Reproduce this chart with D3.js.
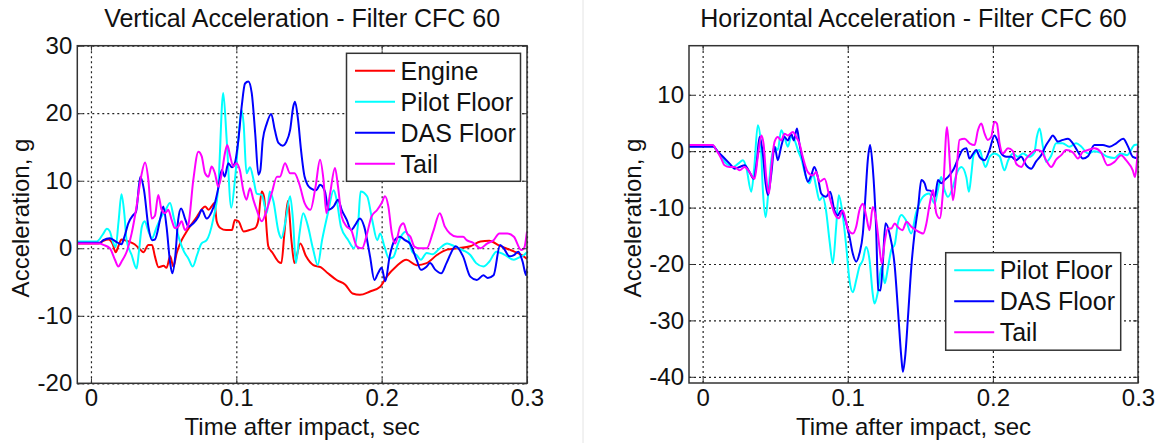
<!DOCTYPE html>
<html>
<head>
<meta charset="utf-8">
<script src="https://cdn.jsdelivr.net/npm/d3@7"></script>
<style>
body { margin: 0; background: #fff; }
svg { display: block; font-family: "Liberation Sans", Arial, sans-serif; }
</style>
</head>
<body>
<svg id="chart" width="1159" height="443"></svg>
<script>
// time (s), acceleration (g)
var vertEngine = [[-0.0094,0.7],[0.005,0.7],[0.0085,1.1],[0.012,1.3],[0.015,0.6],[0.017,-0.6],[0.019,0.4],[0.021,1.3],[0.026,1.0],[0.030,0.6],[0.034,-0.2],[0.036,-0.6],[0.0395,0.5],[0.042,0.5],[0.044,-1.2],[0.0465,-2.8],[0.050,-2.6],[0.052,-2.9],[0.0545,-1.2],[0.0567,-2.7],[0.059,-0.7],[0.0613,0.7],[0.065,2.2],[0.068,3.2],[0.073,4.7],[0.076,5.7],[0.0785,6.2],[0.081,5.7],[0.083,6.2],[0.085,6.7],[0.0865,4.0],[0.089,3.0],[0.093,2.7],[0.097,2.7],[0.099,4.2],[0.1015,4.0],[0.105,2.5],[0.109,2.7],[0.113,3.0],[0.115,4.0],[0.1175,8.4],[0.119,7.7],[0.122,0.3],[0.125,-0.7],[0.129,-2.0],[0.131,-2.2],[0.133,2.0],[0.1355,7.0],[0.138,1.0],[0.140,-2.2],[0.144,0.7],[0.148,-1.2],[0.153,-2.5],[0.158,-2.8],[0.163,-3.7],[0.169,-4.7],[0.175,-5.4],[0.180,-6.7],[0.185,-6.9],[0.192,-6.4],[0.199,-5.7],[0.2035,-4.2],[0.210,-2.7],[0.217,-1.7],[0.224,-2.5],[0.231,-2.2],[0.238,-1.0],[0.245,-0.2],[0.252,0],[0.261,0.3],[0.268,1.0],[0.274,1.1],[0.281,0.4],[0.289,-0.3],[0.297,-1.1],[0.3,-1.6]];
var vertPilot = [[-0.0094,1.0],[0.004,1.0],[0.008,2.0],[0.011,2.9],[0.013,2.5],[0.015,1.0],[0.017,0.2],[0.019,4.0],[0.021,8.0],[0.023,5.0],[0.0245,1.2],[0.028,-1.0],[0.0314,-3.0],[0.033,-0.5],[0.035,3.2],[0.037,4.0],[0.0395,2.5],[0.042,1.5],[0.045,3.0],[0.048,4.5],[0.051,5.5],[0.0544,6.7],[0.057,4.5],[0.061,1.2],[0.064,-0.5],[0.067,-1.5],[0.070,-2.7],[0.073,-1.0],[0.076,0.7],[0.0796,1.2],[0.084,4.2],[0.0876,9.1],[0.091,23.0],[0.0934,16],[0.0965,6.0],[0.099,10.0],[0.1014,16],[0.1035,20.5],[0.105,18.5],[0.107,11.1],[0.1094,12.0],[0.112,10.0],[0.114,8.1],[0.1175,7.9],[0.121,5.2],[0.123,8.4],[0.1255,7.0],[0.129,2.5],[0.131,1.5],[0.134,4.2],[0.137,7.7],[0.139,4.2],[0.141,-2.2],[0.1435,2.2],[0.146,5.2],[0.149,3.5],[0.153,-0.3],[0.156,-2.5],[0.159,1.2],[0.163,5.2],[0.167,8.6],[0.169,7.2],[0.172,3.2],[0.177,1.2],[0.181,0],[0.184,4.2],[0.1855,8.4],[0.19,7.7],[0.1935,4.2],[0.197,1.2],[0.199,2.2],[0.202,0.2],[0.205,-1.5],[0.208,-1.3],[0.211,0.5],[0.214,2.0],[0.217,2.5],[0.221,-0.5],[0.224,-1.0],[0.227,-1.7],[0.231,-0.7],[0.235,-0.9],[0.24,0],[0.245,0.7],[0.25,0.3],[0.256,-0.3],[0.261,-1.0],[0.265,-2.2],[0.27,-2.7],[0.274,-2.0],[0.279,-0.5],[0.284,-0.9],[0.291,-1.7],[0.295,-1.3],[0.298,-1.0],[0.3,-0.6]];
var vertDas = [[-0.0094,0.8],[0.006,0.8],[0.0085,1.2],[0.013,1.5],[0.017,1.0],[0.021,0.6],[0.023,1.7],[0.0257,3.7],[0.029,4.9],[0.031,5.4],[0.034,10.6],[0.0365,8.6],[0.0395,3.2],[0.042,1.2],[0.044,1.3],[0.048,4.7],[0.0498,6.2],[0.052,3.2],[0.0545,-2.2],[0.056,-3.7],[0.058,-1.2],[0.060,4.2],[0.062,5.9],[0.065,4.2],[0.067,3.2],[0.0705,3.7],[0.074,4.7],[0.0762,5.7],[0.0796,4.4],[0.083,5.4],[0.0855,6.9],[0.0876,8.9],[0.090,11.6],[0.092,10.6],[0.0945,12.6],[0.097,12.0],[0.099,12.6],[0.1014,16],[0.1037,21],[0.106,24.4],[0.1083,24.7],[0.1106,23],[0.113,17],[0.1152,10.9],[0.1165,11.5],[0.1182,16],[0.121,18.5],[0.124,19.9],[0.1265,17.5],[0.129,15.6],[0.132,15.2],[0.1345,15.8],[0.137,17.5],[0.1392,21],[0.1404,21.7],[0.1425,19],[0.1445,14.6],[0.147,10.6],[0.151,8.9],[0.155,8.6],[0.1576,9.4],[0.161,8.4],[0.1633,5.7],[0.167,6.2],[0.170,7.2],[0.1725,5.7],[0.176,4.2],[0.179,2.7],[0.1825,3.7],[0.185,4.4],[0.188,3.2],[0.192,-1.2],[0.195,-4.7],[0.1975,-3.7],[0.2,-2.9],[0.2025,-4.9],[0.2055,-1.2],[0.209,1.2],[0.2125,1.7],[0.216,1.2],[0.2195,0.7],[0.224,-1.7],[0.227,-3.2],[0.231,-2.7],[0.2333,-2.2],[0.237,-3.2],[0.241,-3.7],[0.2446,-2.2],[0.251,0.3],[0.256,-1.2],[0.261,-4.2],[0.2655,-4.7],[0.27,-4.0],[0.273,-4.4],[0.277,-4.0],[0.2815,0.5],[0.284,0],[0.288,-1.2],[0.291,-1.0],[0.294,-0.5],[0.297,-2.0],[0.2994,-4.0],[0.3,-3.0]];
var vertTail = [[-0.0094,0.7],[0.006,0.7],[0.0085,0.5],[0.013,0],[0.0165,-1.7],[0.0188,-2.7],[0.021,-2.0],[0.025,-0.25],[0.028,2.2],[0.031,5.7],[0.0345,10.6],[0.0372,12.7],[0.0395,10.1],[0.0418,4.4],[0.044,4.8],[0.0463,7.9],[0.0486,5.7],[0.051,5.2],[0.0532,5.7],[0.0555,4.2],[0.0578,3.0],[0.060,3.2],[0.0624,4.0],[0.0647,2.7],[0.067,3.5],[0.0704,10.1],[0.0739,14.3],[0.0762,13.6],[0.0785,11.1],[0.0808,10.6],[0.083,12.1],[0.0853,11.1],[0.0876,9.1],[0.090,11.1],[0.0922,14.1],[0.0938,15.3],[0.0956,13.8],[0.098,12.1],[0.100,12.6],[0.1025,11.5],[0.1048,8.6],[0.107,7.2],[0.1094,8.9],[0.1117,7.2],[0.114,5.7],[0.1175,4.0],[0.121,5.7],[0.1243,8.1],[0.128,10.6],[0.130,10.6],[0.1335,12.6],[0.137,11.1],[0.140,11.1],[0.1435,9.4],[0.147,6.7],[0.151,5.7],[0.1545,9.1],[0.1576,13.1],[0.160,10.1],[0.162,5.2],[0.1645,8.1],[0.1679,11.9],[0.170,9.1],[0.1725,4.7],[0.176,3.2],[0.179,2.7],[0.183,0.25],[0.1865,0],[0.190,2.2],[0.193,4.7],[0.197,5.7],[0.2,6.7],[0.2023,7.7],[0.2046,6.2],[0.207,2.2],[0.2093,0.7],[0.2127,3.2],[0.215,3.7],[0.2175,2.2],[0.2198,1.7],[0.2225,0.25],[0.226,0],[0.231,0],[0.2355,2.5],[0.240,5.2],[0.2435,3.2],[0.247,2.2],[0.252,1.7],[0.256,1.7],[0.2585,1.2],[0.263,0.8],[0.268,0],[0.2725,0.7],[0.277,1.2],[0.281,2.2],[0.2865,2.2],[0.291,1.7],[0.296,-0.25],[0.298,0],[0.3,2.5]];

var horzPilot = [[-0.0094,1.1],[0.007,1.1],[0.0094,0.2],[0.0128,-1.0],[0.0163,-2.2],[0.021,-2.8],[0.0245,-2.2],[0.0278,-1.6],[0.030,-2.8],[0.0335,-7.2],[0.0356,-2.8],[0.038,4.6],[0.0399,2.0],[0.0415,-6.9],[0.0434,-11.7],[0.045,-8.1],[0.0473,-1.6],[0.0496,0.8],[0.0518,0.2],[0.0541,3.7],[0.0564,2.5],[0.0587,0.8],[0.061,2.5],[0.0633,2.0],[0.0656,0.2],[0.0679,-1.3],[0.0713,-4.6],[0.0736,-5.7],[0.076,-4.0],[0.0782,-6.3],[0.0805,-8.7],[0.0828,-8.1],[0.085,-10.5],[0.0874,-15.8],[0.0897,-19.9],[0.092,-13.4],[0.0938,-7.8],[0.0961,-10.5],[0.099,-17],[0.1012,-22.9],[0.1035,-25],[0.1058,-22.9],[0.108,-20.5],[0.1104,-19.3],[0.1126,-17],[0.115,-19.3],[0.1172,-25.3],[0.1184,-27],[0.1207,-25],[0.1232,-20.5],[0.1255,-23.4],[0.1278,-20.5],[0.130,-17.5],[0.1324,-16.5],[0.1345,-12.8],[0.137,-11.3],[0.140,-12.2],[0.1437,-14.6],[0.147,-11],[0.1518,-8.1],[0.156,-7.5],[0.160,-9.3],[0.162,-7.0],[0.1644,-4.6],[0.1667,-6.9],[0.169,-8.1],[0.1725,-6.3],[0.175,-4.0],[0.1783,-2.8],[0.1817,-4.6],[0.1835,-7.2],[0.1852,-4.0],[0.1867,-0.7],[0.1909,0.2],[0.193,-1.6],[0.195,-2.8],[0.1977,-1.0],[0.201,-0.4],[0.2046,-0.9],[0.208,-3.4],[0.2104,-1.7],[0.2138,-0.4],[0.2172,-1.0],[0.2207,-0.4],[0.225,-1.0],[0.2285,-0.3],[0.2303,2.5],[0.2322,4.0],[0.2345,0.8],[0.2367,-1.9],[0.2402,-0.8],[0.2436,1.4],[0.248,1.4],[0.2528,0.8],[0.2574,1.4],[0.261,0.8],[0.2655,-0.4],[0.270,0],[0.2745,-0.3],[0.279,-1.0],[0.2838,-1.2],[0.288,-0.4],[0.2925,-0.7],[0.2976,1.1],[0.3,1.2]];
var horzDas = [[-0.0094,0.8],[0.0075,0.8],[0.0105,-0.1],[0.014,-1.0],[0.0186,-2.2],[0.0221,-3.1],[0.0255,-2.8],[0.029,-2.5],[0.0323,-3.7],[0.0351,-4.9],[0.0374,-1.6],[0.0392,2.5],[0.0415,-0.5],[0.0434,-5.7],[0.045,-7.8],[0.0473,-4.0],[0.0496,0.8],[0.0518,-1.6],[0.0541,0.8],[0.0564,2.5],[0.0587,1.9],[0.061,3.1],[0.0628,1.9],[0.065,4.0],[0.0667,1.3],[0.069,-1.6],[0.0725,-5.4],[0.0748,-4.3],[0.077,-2.8],[0.0794,-4.6],[0.0817,-7.5],[0.085,-8.1],[0.0879,-7.2],[0.0908,-10.5],[0.0931,-11.4],[0.0954,-10.5],[0.099,-12.8],[0.1012,-15.2],[0.1035,-18.2],[0.1058,-19.6],[0.108,-18.2],[0.1104,-14.6],[0.112,-8.7],[0.1138,-1.6],[0.1154,1.1],[0.1172,-2.8],[0.1195,-13.4],[0.121,-24.6],[0.1225,-24.7],[0.124,-20.5],[0.126,-12.8],[0.1288,-14.6],[0.1324,-20.5],[0.1346,-28.2],[0.1369,-36.5],[0.138,-39.1],[0.1397,-36],[0.1415,-29.4],[0.1438,-20.5],[0.146,-14.6],[0.1485,-9.9],[0.1507,-5.1],[0.153,-5.7],[0.1545,-6.9],[0.157,-7.0],[0.160,-8.1],[0.1622,-5.1],[0.1644,-5.7],[0.1667,-5.1],[0.169,-4.6],[0.1725,-3.4],[0.1766,-1.0],[0.179,0.2],[0.1817,0.5],[0.1839,-1.3],[0.1862,-0.5],[0.1885,0.2],[0.1908,-1.0],[0.1943,-1.6],[0.1977,0.2],[0.2011,2.8],[0.2034,1.7],[0.2058,-0.4],[0.2092,-1.0],[0.2126,-1.0],[0.216,-1.6],[0.2195,-1.0],[0.223,-2.5],[0.2264,-3.1],[0.2298,-1.8],[0.2333,-0.7],[0.2367,1.1],[0.239,2.0],[0.2413,2.8],[0.2448,1.7],[0.2482,2.0],[0.2517,2.2],[0.2551,1.4],[0.2586,-0.1],[0.262,-1.3],[0.2655,-0.9],[0.270,1.1],[0.2758,1.1],[0.2804,0.8],[0.285,1.4],[0.2898,2.2],[0.2930,0.9],[0.2964,-1.0],[0.3,-1.3]];
var horzTail = [[-0.0094,1.1],[0.007,1.1],[0.0094,0.2],[0.0128,-1.3],[0.0151,-2.5],[0.0186,-2.8],[0.022,-2.8],[0.0255,-3.4],[0.029,-2.8],[0.0323,-3.7],[0.0358,-4.9],[0.038,-1.0],[0.0404,2.8],[0.042,1.3],[0.0438,-4.6],[0.0457,-7.5],[0.0473,-3.0],[0.0496,1.7],[0.0518,2.5],[0.0541,1.9],[0.0564,3.1],[0.0587,2.8],[0.0622,3.4],[0.0645,2.5],[0.0667,1.4],[0.069,-1.0],[0.0725,-3.7],[0.076,-4.3],[0.0782,-3.7],[0.0805,-5.4],[0.084,-4.9],[0.0874,-8.1],[0.0908,-11.0],[0.0938,-11.9],[0.0966,-10.5],[0.100,-13.7],[0.1035,-14.6],[0.1058,-13.4],[0.108,-10.5],[0.1104,-9.3],[0.1127,-11.5],[0.115,-14.0],[0.1172,-9.9],[0.1195,-12.0],[0.1218,-17.0],[0.1234,-19.9],[0.1255,-16.0],[0.1276,-13.7],[0.130,-13.7],[0.1324,-12.8],[0.1346,-13.5],[0.1377,-14.0],[0.1405,-12.5],[0.1438,-13.4],[0.147,-14.0],[0.152,-14.6],[0.1542,-12.8],[0.1565,-9.3],[0.1588,-6.9],[0.161,-11.0],[0.1634,-11.9],[0.1657,-6.9],[0.1684,4.3],[0.1707,-3.4],[0.1725,-8.7],[0.1748,-4.0],[0.177,2.0],[0.1805,2.2],[0.184,1.4],[0.1874,1.1],[0.1897,3.7],[0.192,4.9],[0.1943,3.1],[0.1965,2.0],[0.1988,2.5],[0.2011,5.2],[0.2028,4.9],[0.2046,1.4],[0.2069,-0.4],[0.2104,0.5],[0.2138,0],[0.216,-2.2],[0.2195,-2.8],[0.223,-1.3],[0.2264,-0.4],[0.2298,0.2],[0.2333,0],[0.2367,-1.6],[0.2402,-2.8],[0.2436,-1.5],[0.2471,-0.7],[0.2505,0.2],[0.2551,-0.2],[0.2586,-1.3],[0.262,-0.1],[0.2655,0.2],[0.270,0.5],[0.2745,-0.2],[0.279,-2.5],[0.2838,-1.9],[0.2884,-0.7],[0.2918,-1.6],[0.2964,-3.4],[0.298,-4.6],[0.2992,-2.0],[0.3,1.1]];

var timeTicks = [0, 0.1, 0.2, 0.3];
var vertTicks = [-20, -10, 0, 10, 20, 30];
var horzTicks = [-40, -30, -20, -10, 0, 10];
var colors = {"Engine": "#ff0000", "Pilot Floor": "#00ffff", "DAS Floor": "#0000ff", "Tail": "#ff00ff"};

var svg = d3.select("#chart");
var fontSize = 24;
var bigFont = 25;

// faint divider between the two figures
svg.append("line").attr("x1", 583).attr("x2", 583).attr("y1", 0).attr("y2", 443)
    .attr("stroke", "#e4e4e4").attr("stroke-width", 1);

function drawPanel(p) {
    var g = svg.append("g");
    var x = d3.scaleLinear().domain([-0.0094, 0.3]).range([p.left, p.right]);
    var y = d3.scaleLinear().domain(p.yDomain).range([p.bottom, p.top]);
    var h = p.bottom - p.top, w = p.right - p.left;

    // dotted grid
    g.append("g").attr("transform", "translate(0," + p.bottom + ")")
        .call(d3.axisBottom(x).tickValues(timeTicks).tickSize(-h).tickFormat(""))
        .call(s => s.select(".domain").remove())
        .selectAll("line").attr("stroke", "#222").attr("stroke-dasharray", "2,3").attr("stroke-width", 1.2);
    g.append("g").attr("transform", "translate(" + p.left + ",0)")
        .call(d3.axisLeft(y).tickValues(p.yTicks).tickSize(-w).tickFormat(""))
        .call(s => s.select(".domain").remove())
        .selectAll("line").attr("stroke", "#222").attr("stroke-dasharray", "2,3").attr("stroke-width", 1.2);

    var clipId = "clip" + p.id;
    g.append("clipPath").attr("id", clipId).append("rect")
        .attr("x", p.left).attr("y", p.top).attr("width", w).attr("height", h);

    var line = d3.line().x(d => x(d[0])).y(d => y(d[1])).curve(d3.curveMonotoneX);
    var lines = g.append("g").attr("clip-path", "url(#" + clipId + ")");
    p.series.forEach(function(s) {
        lines.append("path").datum(s.data)
            .attr("d", line)
            .attr("fill", "none")
            .attr("stroke", colors[s.name])
            .attr("stroke-width", 2)
            .attr("stroke-linejoin", "round");
    });

    // inner tick marks on all four sides
    var tickLen = 5;
    [[d3.axisBottom(x).tickValues(timeTicks), "translate(0," + p.bottom + ")"],
     [d3.axisTop(x).tickValues(timeTicks), "translate(0," + p.top + ")"]].forEach(function(a) {
        g.append("g").attr("transform", a[1]).call(a[0].tickSize(-tickLen).tickFormat(""))
            .call(s => s.select(".domain").remove())
            .selectAll("line").attr("stroke", "#333");
    });
    [[d3.axisLeft(y).tickValues(p.yTicks), "translate(" + p.left + ",0)"],
     [d3.axisRight(y).tickValues(p.yTicks), "translate(" + p.right + ",0)"]].forEach(function(a) {
        g.append("g").attr("transform", a[1]).call(a[0].tickSize(-tickLen).tickFormat(""))
            .call(s => s.select(".domain").remove())
            .selectAll("line").attr("stroke", "#333");
    });

    // axes box
    g.append("rect").attr("x", p.left).attr("y", p.top).attr("width", w).attr("height", h)
        .attr("fill", "none").attr("stroke", "#333").attr("stroke-width", 1.5);

    // tick labels
    var xl = g.append("g").attr("transform", "translate(0," + p.bottom + ")")
        .call(d3.axisBottom(x).tickValues(timeTicks).tickSize(0).tickPadding(6).tickFormat(d3.format("~g")));
    xl.select(".domain").remove();
    var yl = g.append("g").attr("transform", "translate(" + p.left + ",0)")
        .call(d3.axisLeft(y).tickValues(p.yTicks).tickSize(0).tickPadding(5).tickFormat(d => String(d)));
    yl.select(".domain").remove();
    g.selectAll(".tick text").attr("font-size", fontSize).attr("fill", "#111")
        .attr("font-family", "Liberation Sans, Arial, sans-serif");

    // titles
    g.append("text").attr("x", (p.left + p.right) / 2).attr("y", 27)
        .attr("text-anchor", "middle").attr("font-size", bigFont).attr("fill", "#111").text(p.title);
    g.append("text").attr("x", (p.left + p.right) / 2).attr("y", 435)
        .attr("text-anchor", "middle").attr("font-size", fontSize).attr("fill", "#111")
        .text("Time after impact, sec");
    g.append("text").attr("transform", "translate(" + (p.left - 48) + ",218) rotate(-90)")
        .attr("text-anchor", "middle").attr("font-size", fontSize).attr("fill", "#111")
        .text("Acceleration, g");

    // legend
    var lg = g.append("g");
    lg.append("rect").attr("x", p.legend.x).attr("y", p.legend.y)
        .attr("width", p.legend.w).attr("height", p.legend.h)
        .attr("fill", "#fff").attr("stroke", "#333").attr("stroke-width", 1.5);
    p.series.forEach(function(s, i) {
        var cy = p.legend.y + 17.5 + i * 31;
        lg.append("line").attr("x1", p.legend.x + 8.5).attr("x2", p.legend.x + 48.5)
            .attr("y1", cy).attr("y2", cy)
            .attr("stroke", colors[s.name]).attr("stroke-width", 2);
        lg.append("text").attr("x", p.legend.x + 54).attr("y", cy).attr("dy", "0.35em")
            .attr("font-size", bigFont).attr("fill", "#111").text(s.name);
    });
}

drawPanel({
    id: "v", left: 77.3, right: 527, top: 45.7, bottom: 383.3,
    yDomain: [-20, 30], yTicks: vertTicks,
    title: "Vertical Acceleration - Filter CFC 60",
    legend: {x: 346.5, y: 53.3, w: 174, h: 128},
    series: [
        {name: "Engine", data: vertEngine},
        {name: "Pilot Floor", data: vertPilot},
        {name: "DAS Floor", data: vertDas},
        {name: "Tail", data: vertTail}
    ]
});

drawPanel({
    id: "h", left: 689, right: 1138, top: 45.7, bottom: 383,
    yDomain: [-41.1, 18.7], yTicks: horzTicks,
    title: "Horizontal Acceleration - Filter CFC 60",
    legend: {x: 945.7, y: 252.7, w: 175, h: 97.5},
    series: [
        {name: "Pilot Floor", data: horzPilot},
        {name: "DAS Floor", data: horzDas},
        {name: "Tail", data: horzTail}
    ]
});
</script>
</body>
</html>
